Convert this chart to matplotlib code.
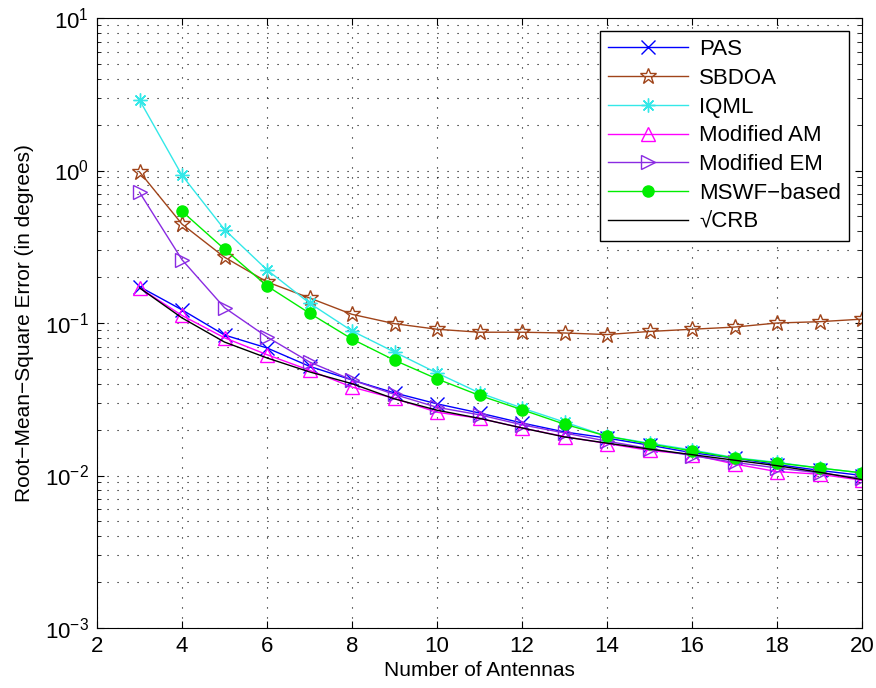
import numpy as np
import matplotlib
matplotlib.use('Agg')
import matplotlib.pyplot as plt

plt.rcParams['font.family'] = ['Liberation Sans', 'DejaVu Sans']
plt.rcParams['mathtext.default'] = 'regular'

antennas = [3, 4, 5, 6, 7, 8, 9, 10, 11, 12, 13, 14, 15, 16, 17, 18, 19, 20]
antennas_mswf = antennas[1:]

pas = [0.173, 0.122, 0.0834, 0.0686, 0.052, 0.0423, 0.0348, 0.0295, 0.0257, 0.0221,
       0.0193, 0.0176, 0.0158, 0.0141, 0.013, 0.0118, 0.0108, 0.0100]
sbdoa = [0.98, 0.445, 0.27, 0.186, 0.146, 0.114, 0.099, 0.091, 0.087, 0.087,
         0.086, 0.084, 0.088, 0.091, 0.094, 0.100, 0.102, 0.106]
iqml = [2.9, 0.93, 0.41, 0.223, 0.135, 0.0887, 0.0645, 0.047, 0.0348, 0.0277,
        0.0224, 0.0181, 0.0163, 0.0147, 0.0131, 0.0122, 0.0112, 0.0104]
mod_am = [0.17, 0.112, 0.080, 0.062, 0.049, 0.038, 0.032, 0.026, 0.0237, 0.0205,
          0.018, 0.0162, 0.0146, 0.0137, 0.0119, 0.0106, 0.0102, 0.0093]
mod_em = [0.72, 0.26, 0.126, 0.081, 0.0555, 0.0423, 0.034, 0.028, 0.025, 0.0215,
          0.019, 0.0168, 0.015, 0.0135, 0.0122, 0.0112, 0.0104, 0.0096]
mswf = [0.54, 0.305, 0.175, 0.116, 0.0785, 0.057, 0.043, 0.0335, 0.027, 0.0217,
        0.0181, 0.0161, 0.0145, 0.013, 0.0121, 0.0112, 0.0104]
crb = [0.17, 0.108, 0.075, 0.059, 0.0478, 0.040, 0.0318, 0.0268, 0.0237, 0.0205,
       0.0179, 0.0163, 0.0149, 0.0137, 0.0126, 0.0116, 0.0105, 0.0094]

fig = plt.figure(figsize=(8.76, 6.88), dpi=100)
ax = fig.add_axes([97 / 876, 1 - 628 / 688, (862 - 97) / 876, (628 - 18) / 688])

ax.plot(antennas, pas, color='#0000ff', marker='x', markersize=10, lw=1, label='PAS')
ax.plot(antennas, sbdoa, color='#a0441a', marker='*', markersize=12, mfc='none', mew=1,
        lw=1, label='SBDOA')
ax.plot(antennas, iqml, color='#33e8e8', marker=(8, 2, 0), markersize=10, mew=1, lw=1,
        label='IQML')
ax.plot(antennas, mod_am, color='#ff00ff', marker='^', markersize=10, mfc='none', lw=1,
        label='Modified AM')
ax.plot(antennas, mod_em, color='#8a2be2', marker='>', markersize=10, mfc='none', lw=1,
        label='Modified EM')
ax.plot(antennas_mswf, mswf, color='#00ee00', marker='o', markersize=8, lw=1,
        label='MSWF\u2212based')
ax.plot(antennas, crb, color='black', lw=1, label='\u221aCRB')

ax.set_yscale('log')
ax.set_xlim(2, 20)
ax.set_ylim(1e-3, 10)
ax.set_xticks(range(2, 21, 2))
ax.tick_params(which='both', direction='in', top=True, right=True, labelsize=16)
ax.tick_params(which='major', length=5, pad=6)
ax.tick_params(which='minor', length=3)
grid_style = dict(linestyle=(0, (1, 8)), color='black', lw=0.8)
ax.grid(True, which='major', **grid_style)
ax.grid(True, which='minor', axis='y', **grid_style)

ax.set_xlabel('Number of Antennas', fontsize=15, labelpad=3)
ax.set_ylabel('Root\u2212Mean\u2212Square Error (in degrees)', fontsize=15, labelpad=8)

leg = ax.legend(loc='upper right', fontsize=16, fancybox=False, framealpha=1,
                edgecolor='black', borderaxespad=0.6, handlelength=3.6,
                labelspacing=0.35, borderpad=0.35, handletextpad=0.5,
                markerscale=1.0, numpoints=1)
leg.get_frame().set_linewidth(1)

fig.savefig('out.png', dpi=100)
